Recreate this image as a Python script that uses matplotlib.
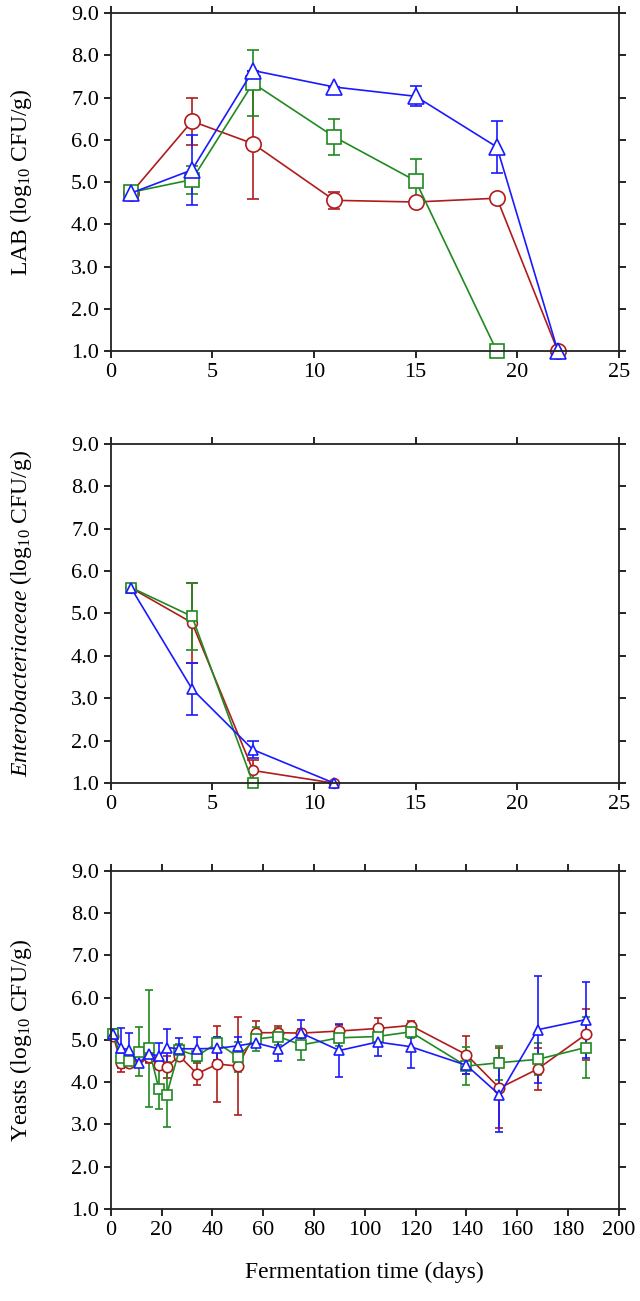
import matplotlib
matplotlib.use('Agg')
import matplotlib.pyplot as plt
from matplotlib.ticker import FormatStrFormatter

plt.rcParams['font.family'] = ['Liberation Serif', 'DejaVu Serif']
plt.rcParams['mathtext.fontset'] = 'custom'
plt.rcParams['mathtext.rm'] = 'Liberation Serif'
plt.rcParams['mathtext.it'] = 'Liberation Serif:italic'

# LAB counts
lab_days = [1, 4, 7, 11, 15, 19, 22]
lab_red = [4.74, 6.44, 5.91, 4.57, 4.53, 4.62, 1.0]
lab_red_err = [0, 0.55, 1.32, 0.2, 0.05, 0, 0]
lab_green_days = [1, 4, 7, 11, 15, 19]
lab_green = [4.76, 5.06, 7.34, 6.07, 5.03, 1.0]
lab_green_err = [0, 0.33, 0.78, 0.42, 0.51, 0]
lab_blue = [4.74, 5.29, 7.64, 7.25, 7.03, 5.83, 1.0]
lab_blue_err = [0, 0.82, 0, 0, 0.24, 0.61, 0]

# Enterobacteriaceae counts
ent_days = [1, 4, 7, 11]
ent_red = [5.60, 4.78, 1.30, 1.0]
ent_red_err = [0, 0.94, 0.25, 0]
ent_green_days = [1, 4, 7]
ent_green = [5.61, 4.93, 1.0]
ent_green_err = [0, 0.79, 0]
ent_blue = [5.60, 3.22, 1.79, 1.0]
ent_blue_err = [0, 0.61, 0.2, 0]

# Yeast counts
y_days = [1, 4, 7, 11, 15, 19, 22, 27, 34, 42, 50, 57, 66, 75, 90, 105, 118, 140, 153, 168, 187]
y_red = [5.10, 4.45, 4.45, 4.60, 4.60, 4.40, 4.36, 4.62, 4.20, 4.43, 4.38, 5.17, 5.17, 5.16, 5.21,
         5.27, 5.34, 4.65, 3.86, 4.31, 5.13]
y_red_err = [0.1, 0.22, 0.1, 0.1, 0.15, 0.1, 0.27, 0.1, 0.26, 0.9, 1.16, 0.27, 0.15, 0.1, 0.15,
             0.25, 0.1, 0.45, 0.95, 0.5, 0.6]
y_green = [5.15, 4.58, 4.51, 4.72, 4.80, 3.83, 3.70, 4.76, 4.62, 4.93, 4.60, 5.02, 5.08, 4.88, 5.05,
           5.08, 5.19, 4.38, 4.46, 4.54, 4.82]
y_green_err = [0.1, 0.2, 0.15, 0.58, 1.39, 0.47, 0.77, 0.15, 0.15, 0.15, 0.35, 0.28, 0.2, 0.35, 0.2,
               0.15, 0.15, 0.45, 0.4, 0.38, 0.73]
y_blue = [5.13, 4.81, 4.77, 4.45, 4.67, 4.62, 4.82, 4.79, 4.79, 4.80, 4.86, 4.93, 4.79, 5.16, 4.75,
          4.95, 4.84, 4.40, 3.70, 5.24, 5.48]
y_blue_err = [0.1, 0.47, 0.4, 0.1, 0.2, 0.3, 0.43, 0.26, 0.28, 0.27, 0.2, 0.1, 0.3, 0.3, 0.63,
              0.33, 0.5, 0.2, 0.88, 1.26, 0.9]

red = '#b01c1c'
green = '#1f8a1f'
blue = '#1a1aff'

fig = plt.figure(figsize=(6.4, 13.01), dpi=100)
ax1 = fig.add_axes([0.173, 0.730, 0.794, 0.260])
ax2 = fig.add_axes([0.173, 0.398, 0.794, 0.261])
ax3 = fig.add_axes([0.173, 0.0707, 0.794, 0.260])


def series(ax, x, y, err, color, marker, ms, cap):
    cont = ax.errorbar(x, y, yerr=err, color=color, marker=marker, markersize=ms,
                       markerfacecolor='white', markeredgecolor=color, markeredgewidth=1.2,
                       linewidth=1.2, elinewidth=1.2, capsize=cap, capthick=1.2)
    # points sitting on the 1.0 floor are drawn whole, as in the original
    for art in cont.get_children():
        art.set_clip_on(False)


series(ax1, lab_days, lab_red, lab_red_err, red, 'o', 11, 4.5)
series(ax1, lab_green_days, lab_green, lab_green_err, green, 's', 10, 4.5)
series(ax1, lab_days, lab_blue, lab_blue_err, blue, '^', 11, 4.5)

series(ax2, ent_days, ent_red, ent_red_err, red, 'o', 7, 4)
series(ax2, ent_green_days, ent_green, ent_green_err, green, 's', 7, 4)
series(ax2, ent_days, ent_blue, ent_blue_err, blue, '^', 7, 4)

series(ax3, y_days, y_red, y_red_err, red, 'o', 7.5, 3)
series(ax3, y_days, y_green, y_green_err, green, 's', 7.5, 3)
series(ax3, y_days, y_blue, y_blue_err, blue, '^', 7.5, 3)

for ax in (ax1, ax2, ax3):
    ax.set_ylim(1.0, 9.0)
    ax.set_yticks(range(1, 10))
    ax.yaxis.set_major_formatter(FormatStrFormatter('%.1f'))
    ax.tick_params(direction='out', length=5, width=1.2, labelsize=16,
                   top=True, right=True, labeltop=False, labelright=False)
    for s in ax.spines.values():
        s.set_linewidth(1.3)
        s.set_color('#222222')
    ax.yaxis.set_label_coords(-0.15, 0.5)

for ax in (ax1, ax2):
    ax.set_xlim(0, 25)
    ax.set_xticks(range(0, 26, 5))

ax3.set_xlim(0, 200)
ax3.set_xticks(range(0, 201, 20))

ax1.set_ylabel('LAB (log$_{10}$ CFU/g)', fontsize=17)
ax2.set_ylabel(r'$\mathit{Enterobacteriaceae}$ (log$_{10}$ CFU/g)', fontsize=17)
ax3.set_ylabel('Yeasts (log$_{10}$ CFU/g)', fontsize=17)
ax3.set_xlabel('Fermentation time (days)', fontsize=17, labelpad=16)

fig.savefig('out.png', dpi=100)
